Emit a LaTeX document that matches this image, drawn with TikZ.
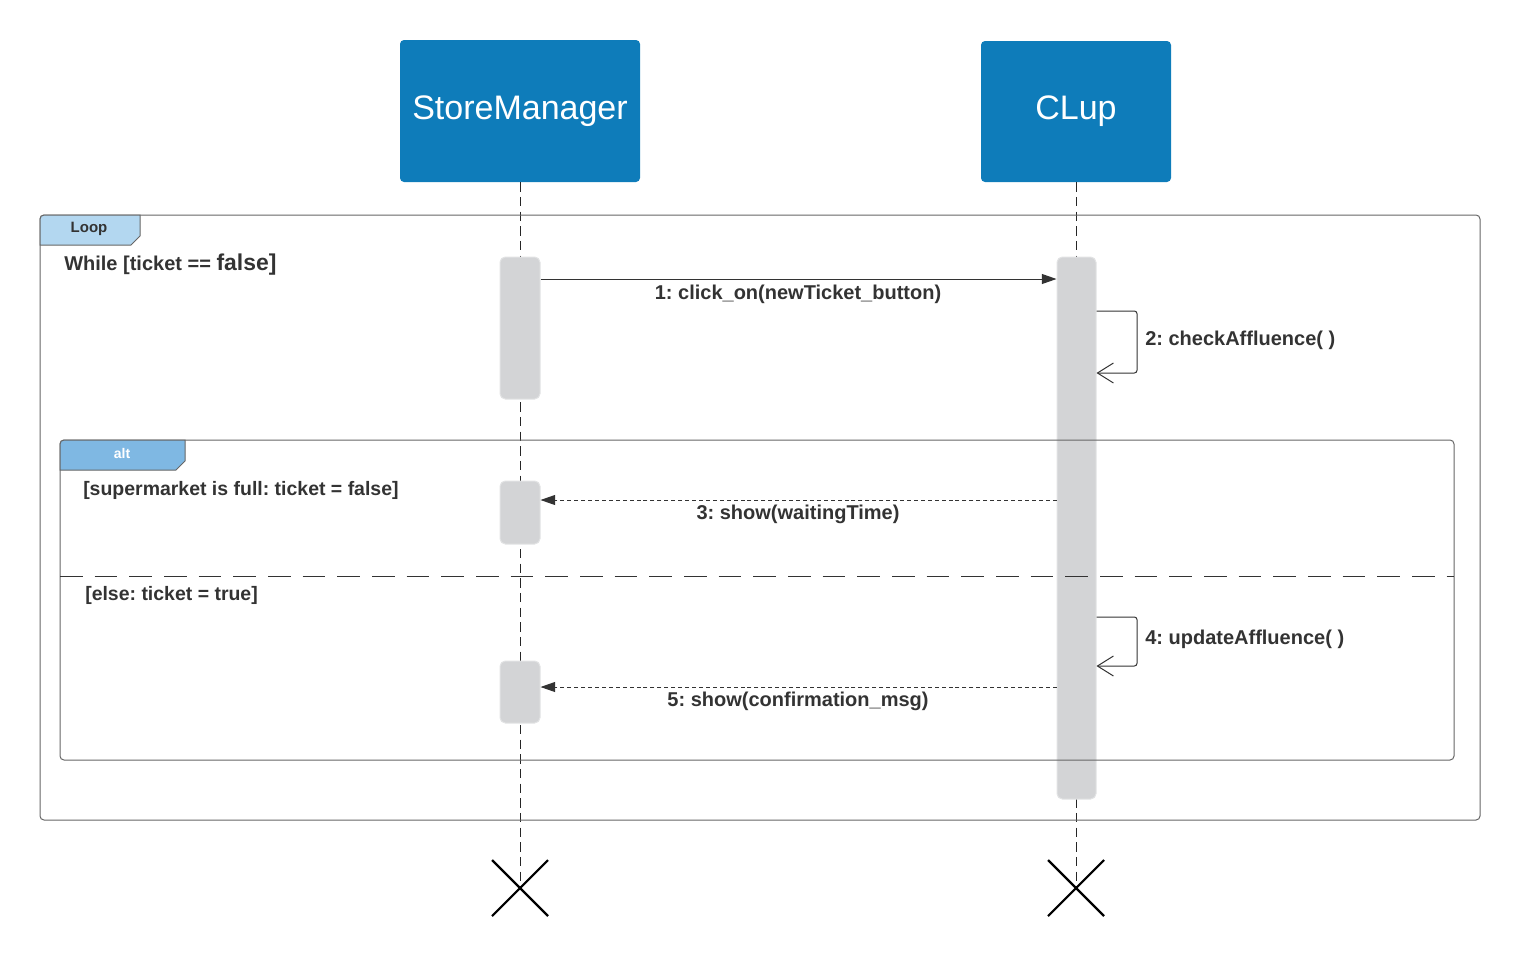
\documentclass[tikz,border=0pt]{standalone}
\usepackage{fontspec}
\setmainfont{Liberation Sans}
\usetikzlibrary{arrows.meta,calc}
\definecolor{hdr}{HTML}{0E7CBA}
\definecolor{act}{HTML}{D3D4D6}
\definecolor{actb}{HTML}{E2E3E4}
\definecolor{looptab}{HTML}{B3D7F0}
\definecolor{alttab}{HTML}{7FB8E3}
\definecolor{txt}{HTML}{333333}
\definecolor{frm}{HTML}{666666}
\frenchspacing
\begin{document}
\begin{tikzpicture}[x=0.75pt,y=-0.75pt,
  participant/.style={draw=none,fill=hdr,rounded corners=3pt,text=white,
    font=\fontsize{25.5}{30}\selectfont,inner sep=0pt},
  actbox/.style={draw=actb,line width=0.75pt,fill=act,rounded corners=4pt,inner sep=0pt,minimum width=30pt},
  lifeline/.style={draw=black!85,line width=0.6pt,dash pattern=on 7pt off 4pt},
  frame/.style={draw=frm,line width=0.75pt,rounded corners=3pt},
  tabshape/.style={draw=frm,line width=0.75pt},
  msgtext/.style={text=txt,font=\bfseries\fontsize{15}{18}\selectfont,inner sep=0pt},
  guardtext/.style={text=txt,font=\bfseries\fontsize{14.6}{17}\selectfont,inner sep=0pt,anchor=west},
  msg/.style={draw=txt,line width=0.75pt,-{Triangle[length=11pt,width=7.5pt]}},
  reply/.style={draw=txt,line width=0.75pt,dash pattern=on 3pt off 2.2pt,-{Triangle[length=11pt,width=7.5pt]}},
  selfmsg/.style={draw=txt,line width=0.75pt,rounded corners=2pt,-{Straight Barb[length=12pt,width=15pt,line width=0.75pt]}},
  xmark/.style={draw=black,line width=1.6pt},
]
\useasboundingbox (0,0) rectangle (1520,957);

% participants
\node[participant,minimum width=180pt,minimum height=106.5pt] (sm) at (520,111) {StoreManager};
\node[participant,minimum width=142.5pt,minimum height=105.75pt] (cl) at (1076,111.5) {CLup};

% destruction points
\coordinate (x1) at (520,888);
\coordinate (x2) at (1076,888);

% lifelines
\draw[lifeline] (sm.south) -- (x1);
\draw[lifeline] (cl.south) -- (x2);

% activations
\node[actbox,minimum height=106.5pt] (a1) at (520,328) {};
\node[actbox,minimum height=47.25pt] (a2) at (520,512.5) {};
\node[actbox,minimum height=46.5pt] (a3) at (520,692) {};
\node[actbox,minimum width=29.25pt,minimum height=406.5pt] (c1) at (1076.5,528) {};

% loop frame
\draw[frame] (40,215) rectangle (1480,820);
\draw[tabshape,fill=looptab,rounded corners=0pt] (40,245) -- (40,219) arc[start angle=180,end angle=270,radius=4] -- (140,215) -- (140,236) -- (131,245) -- cycle;
\node[text=txt,font=\bfseries\fontsize{11.25}{13}\selectfont,inner sep=0pt] (looplbl) at (89,229) {Loop};
\node[guardtext] (g1) at (64,265) {\fontsize{15}{18}\selectfont While [ticket == {\fontsize{17.2}{20}\selectfont false]}};

% alt frame
\draw[frame] (60,440) rectangle (1454,760);
\draw[tabshape,fill=alttab,rounded corners=0pt] (60,470) -- (60,444) arc[start angle=180,end angle=270,radius=4] -- (185,440) -- (185,461) -- (176,470) -- cycle;
\node[text=white,font=\bfseries\fontsize{10.5}{12}\selectfont,inner sep=0pt] (altlbl) at (122,453) {alt};
\node[guardtext] (g2) at (83,490) {[supermarket is full: ticket = false]};
\node[guardtext] (g3) at (85,595) {[else: ticket = true]};
\draw[draw=txt,line width=0.75pt,dash pattern=on 17pt off 9pt] (60,576) -- (1454,576);

% messages
\coordinate (m1) at (800,279);
\draw[msg] (a1.east |- m1) -- (c1.west |- m1);
\node[msgtext] (l1) at (798,294) {1: click\_on(newTicket\_button)};

\coordinate (m2a) at (1137,311);
\coordinate (m2b) at (1137,373);
\draw[selfmsg] (c1.east |- m2a) -- (m2a) -- (m2b) -- (c1.east |- m2b);
\node[msgtext,anchor=west] (l2) at (1145,340) {2: checkAffluence( )};

\coordinate (m3) at (800,500);
\draw[reply] (c1.west |- m3) -- (a2.east |- m3);
\node[msgtext] (l3) at (798,514) {3: show(waitingTime)};

\coordinate (m4a) at (1137,617);
\coordinate (m4b) at (1137,666);
\draw[selfmsg] (c1.east |- m4a) -- (m4a) -- (m4b) -- (c1.east |- m4b);
\node[msgtext,anchor=west] (l4) at (1145,639) {4: updateAffluence( )};

\coordinate (m5) at (800,687);
\draw[reply] (c1.west |- m5) -- (a3.east |- m5);
\node[msgtext] (l5) at (798,701) {5: show(confirmation\_msg)};

% X marks
\draw[xmark] ($(x1)+(-28,-28)$) -- ($(x1)+(28,28)$);
\draw[xmark] ($(x1)+(-28,28)$) -- ($(x1)+(28,-28)$);
\draw[xmark] ($(x2)+(-28,-28)$) -- ($(x2)+(28,28)$);
\draw[xmark] ($(x2)+(-28,28)$) -- ($(x2)+(28,-28)$);
\end{tikzpicture}
\end{document}
